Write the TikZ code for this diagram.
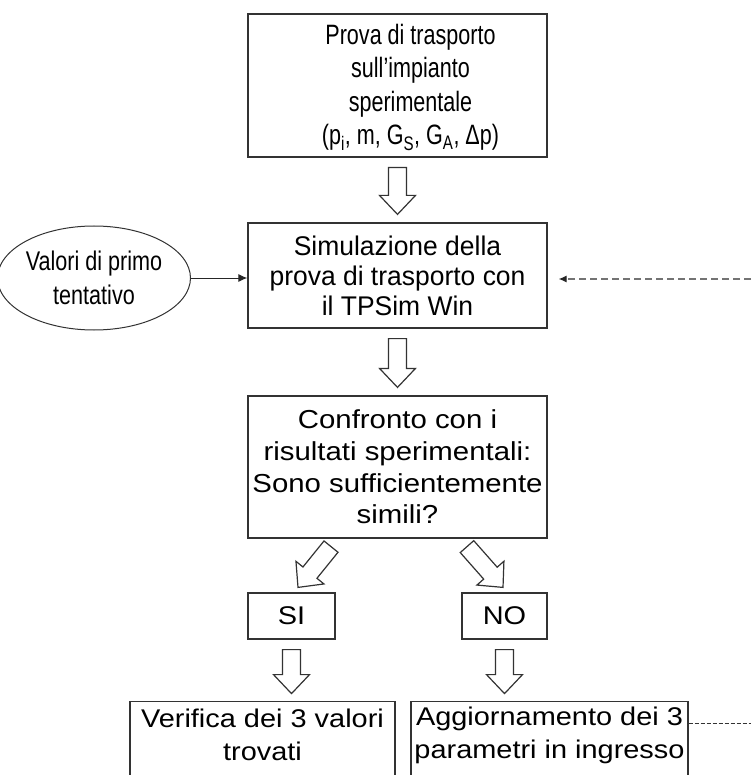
\documentclass[tikz,border=0pt]{standalone}
\usepackage{fontspec}
\setmainfont{Liberation Sans}[FakeStretch=1.13]
\newfontfamily\mediofont{Liberation Sans}[FakeStretch=0.98]
\newfontfamily\strettofont{Liberation Sans}[FakeStretch=0.77]
\newfontfamily\ovalefont{Liberation Sans}[FakeStretch=0.8]
\usetikzlibrary{arrows.meta,calc,positioning,shapes.geometric}

\begin{document}
\begin{tikzpicture}[x=1pt, y=-1pt, >={Latex[length=9pt,width=8pt]},
    scatola/.style={draw=black!80, line width=1.2pt, inner sep=0pt, align=center,
        minimum width=299pt, font=\fontsize{25.6}{32}\selectfont},
    testo/.style={inner sep=0pt, align=center, font=\fontsize{25.6}{33}\selectfont},
    ovale/.style={ellipse, draw=black!80, line width=1pt, inner sep=0pt, align=center,
        minimum width=168pt, minimum height=104pt, font=\ovalefont\fontsize{27}{34}\selectfont},
    vuota/.style={draw=black!80, fill=white, line width=1.2pt, line join=miter},
    tratteggio/.style={dash pattern=on 7pt off 4pt, draw=black!55, line width=1.2pt},
    tratteggino/.style={dash pattern=on 4pt off 2pt, draw=black!80, line width=0.8pt}]
    \useasboundingbox (0,0) rectangle (751,775);
    \clip (0,0) rectangle (751,775);

    % blocchi principali
    \node[scatola, minimum height=143pt] (prova) at (397.5,85.5) {};
    \node[testo, font=\strettofont\fontsize{28}{33.5}\selectfont] (provaT) at ($(prova.center)+(13,2)$)
        {Prova di trasporto\\sull’impianto\\sperimentale\\(p\textsubscript{i}, m, G\textsubscript{S}, G\textsubscript{A}, Δp)};
    \node[scatola, minimum height=105pt, font=\mediofont\fontsize{27}{30}\selectfont] (simul) at (397.5,275.5)
        {Simulazione della\\prova di trasporto con\\il TPSim Win};
    \node[scatola, minimum height=142pt, font=\fontsize{26}{31.7}\selectfont] (confr) at (397.5,467)
        {Confronto con i\\risultati sperimentali:\\Sono sufficientemente\\simili?};

    % SI / NO
    \node[scatola, minimum width=87pt, minimum height=46pt] (si) at (291.5,616) {SI};
    \node[scatola, minimum width=85pt, minimum height=46pt] (no) at (504.5,616) {NO};

    % blocchi in basso (tagliati dal bordo)
    \node[scatola, minimum width=265pt, minimum height=110pt, anchor=north] (verif) at (262.5,701) {};
    \node[testo] (verifT) at (262.5,735) {Verifica dei 3 valori\\trovati};
    \node[scatola, minimum width=277pt, minimum height=110pt, anchor=north] (aggior) at (549.5,701) {};
    \node[testo, font=\fontsize{25.6}{33}\selectfont] (aggiorT) at (549.5,735) {Aggiornamento dei 3\\parametri in ingresso};

    % valori iniziali
    \node[ovale] (valori) at (94,278) {Valori di primo\\tentativo};
    \draw[->, line width=1pt, black!85] (valori.east) -- (valori.east -| simul.west);

    % ritorno tratteggiato
    \coordinate (rit1) at (751,279);
    \coordinate (rit2) at ($(simul.east)+(11,3.5)$);
    \draw[tratteggio, ->, >={Latex[length=8pt,width=7pt,black!85]}] (rit1) -- (rit2);
    \coordinate (rit3) at ($(aggior.north east)+(0,22)$);
    \coordinate (rit4) at (751,723);
    \draw[tratteggino] (rit3) -- (rit4);

    % frecce vuote
    \coordinate (f1a) at ($(prova.south)+(0,10)$);
    \coordinate (f1b) at ($(simul.north)+(0,-8)$);
    \coordinate (f2a) at ($(simul.south)+(0,10)$);
    \coordinate (f2b) at ($(confr.north)+(0,-8)$);
    \coordinate (f3a) at ($(confr.south)+(-66.5,8)$);
    \coordinate (f3b) at ($(si.north)+(6.5,-5)$);
    \coordinate (f4a) at ($(confr.south)+(69.5,8)$);
    \coordinate (f4b) at ($(no.north)+(-1.5,-5)$);
    \coordinate (f5a) at ($(si.south)+(0,10)$);
    \coordinate (f5b) at ($(si.south)+(0,54)$);
    \coordinate (f6a) at ($(no.south)+(0,10)$);
    \coordinate (f6b) at ($(no.south)+(0,54)$);
    \foreach \coda/\punta in {f1a/f1b, f2a/f2b, f3a/f3b, f4a/f4b, f5a/f5b, f6a/f6b} {
        \coordinate (testa) at ($(\punta)!19pt!(\coda)$);
        \draw[vuota] ($(\coda)!9pt!90:(\punta)$) -- ($(testa)!9pt!90:(\punta)$)
            -- ($(testa)!18pt!90:(\punta)$) -- (\punta) -- ($(testa)!18pt!-90:(\punta)$)
            -- ($(testa)!9pt!-90:(\punta)$) -- ($(\coda)!9pt!-90:(\punta)$) -- cycle;
    }
\end{tikzpicture}
\end{document}
